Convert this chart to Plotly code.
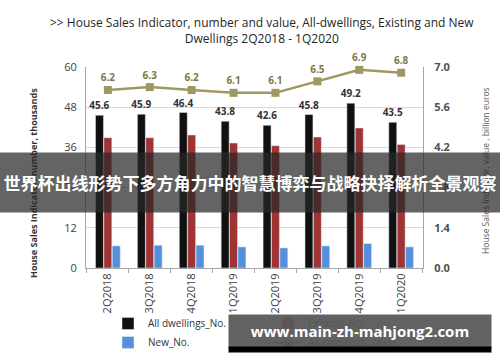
import plotly.graph_objects as go

categories = ["2Q2018", "3Q2018", "4Q2018", "1Q2019", "2Q2019", "3Q2019", "4Q2019", "1Q2020"]
all_no = [45.6, 45.9, 46.4, 43.8, 42.6, 45.8, 49.2, 43.5]
existing_no = [38.9, 38.9, 39.7, 37.3, 36.5, 39.1, 41.8, 36.9]
new_no = [6.6, 6.8, 6.8, 6.3, 6.0, 6.6, 7.3, 6.3]
all_value = [6.2, 6.3, 6.2, 6.1, 6.1, 6.5, 6.9, 6.8]
left_ticks = [0, 12, 24, 36, 48, 60]
right_ticks = [0.0, 1.4, 2.8, 4.2, 5.6, 7.0]

FONT = "Open Sans"
W, H = 500, 362
L, R, T, B = 86, 77, 67, 94
PW, PH = W - L - R, H - T - B


def px(x):
    return (x - L) / PW


def py(y):
    return (H - B - y) / PH


fig = go.Figure()
fig.add_trace(go.Bar(x=categories, y=all_no, name="All dwellings_No.", marker_color="#111111",
                     text=[f"<b>{v}</b>" for v in all_no], textposition="outside",
                     constraintext="none",
                     textfont=dict(size=10, color="#333333"), cliponaxis=False))
fig.add_trace(go.Bar(x=categories, y=existing_no, name="Existing_No.", marker_color="#9e3434"))
fig.add_trace(go.Bar(x=categories, y=new_no, name="New_No.", marker_color="#5590dc"))
fig.add_trace(go.Scatter(x=categories, y=all_value, name="All dwellings_Value", yaxis="y2",
                         mode="lines+markers+text", line=dict(color="#a09862", width=2.5),
                         marker=dict(symbol="square", size=8, color="#a09862"),
                         text=[f"<b>{v}</b>" for v in all_value], textposition="top center",
                         textfont=dict(size=10, color="#7f7748"), cliponaxis=False))

fig.update_layout(
    width=W, height=H,
    margin=dict(l=L, r=R, t=T, b=B, autoexpand=False),
    paper_bgcolor="white", plot_bgcolor="white",
    font=dict(family=FONT, size=11, color="#404040"),
    barmode="group", bargap=0.4, bargroupgap=0.05,
    showlegend=True,
    legend=dict(orientation="h", xref="container", yref="container",
                x=108 / W, y=1 - 309 / H, xanchor="left", yanchor="top",
                entrywidth=115, entrywidthmode="pixels", tracegroupgap=0,
                bgcolor="rgba(0,0,0,0)",
                font=dict(size=10, color="#333333"), itemwidth=30),
    xaxis=dict(type="category", tickangle=-90, showline=True, linecolor="#a6a6a6",
               ticks="outside", tickson="boundaries", ticklen=4, tickcolor="#a6a6a6",
               tickfont=dict(size=11, color="#404040"), showgrid=False, automargin=False),
    yaxis=dict(range=[0, 60], tickvals=left_ticks, showline=True, linecolor="#a6a6a6",
               gridcolor="#d9d9d9", zeroline=False, tickfont=dict(size=11, color="#404040"),
               ticks="", ticklabelstandoff=6, automargin=False),
    yaxis2=dict(range=[0, 7.0], tickvals=right_ticks, ticktext=[f"<b>{v:.1f}</b>" for v in right_ticks],
                overlaying="y", side="right", showline=True, linecolor="#a6a6a6",
                showgrid=False, zeroline=False, tickfont=dict(size=11, color="#505050"),
                ticklabelstandoff=8, automargin=False),
)


def ann(text, x, y, **kw):
    d = dict(text=text, x=px(x), y=py(y), xref="paper", yref="paper", showarrow=False,
             xanchor="center", yanchor="middle")
    d.update(kw)
    return d


annotations = [
    ann("&gt;&gt; House Sales Indicator, number and value, All-dwellings, Existing and New<br>Dwellings 2Q2018 - 1Q2020",
        262, 30, font=dict(size=12, color="#262626", family=FONT), align="center"),
    ann("<b>House Sales Indicator, number, thousands</b>", 33, 183, textangle=-90,
        font=dict(size=9, color="#333333", family=FONT)),
    ann("House Sales Indicator, value , billion euros", 485, 170, textangle=-90,
        font=dict(size=8.5, color="#595959", family=FONT)),
    # banner overlay
    ann("<b>世界杯出线形势下多方角力中的智慧博弈与战略抉择解析全景观察</b>", 250, 182.5,
        width=500, height=59, borderpad=0, bgcolor="rgba(40,40,40,0.72)",
        font=dict(size=17, color="white", family="Noto Sans CJK SC")),
    # watermark box
    ann("<b>www.main-zh-mahjong2.com</b>", 360, 331,
        width=262, height=32, borderpad=0, bgcolor="rgba(88,88,88,0.94)",
        font=dict(size=15, color="white", family=FONT)),
    ann(" ", 360, 349.5, width=262, height=5, borderpad=0, bgcolor="#000000",
        font=dict(size=4, color="black", family=FONT)),
]
fig.update_layout(annotations=annotations)

fig.write_html("out.html", config={"displayModeBar": False},
               post_script="document.body.style.margin='0';document.body.style.overflow='hidden';")
